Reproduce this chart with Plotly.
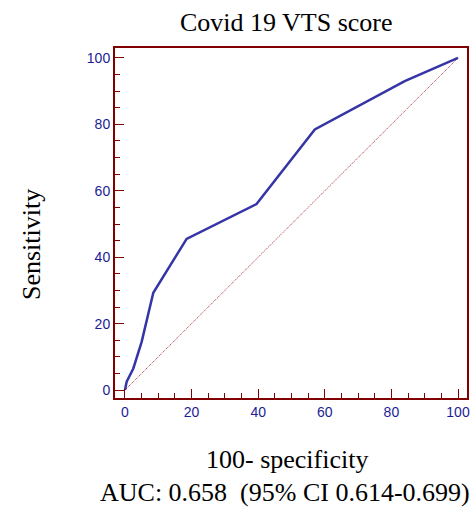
import plotly.graph_objects as go

# ROC curve points (100-specificity, sensitivity)
fpr = [0, 0.5, 2.5, 5, 8.5, 18.5, 39.5, 57, 84, 100]
tpr = [0, 2.5, 6.5, 14.5, 29.3, 45.5, 56, 78.5, 93, 100]
diag_x = [0, 100]
diag_y = [0, 100]
tick_vals = [0, 20, 40, 60, 80, 100]

title_text = "Covid 19 VTS score"
x_title = "100- specificity"
y_title = "Sensitivity"
auc_text = "AUC: 0.658  (95% CI 0.614-0.699)"

frame_color = "#800000"
tick_color = "#1c1c96"
serif = "Liberation Serif, Times New Roman, serif"
sans = "Liberation Sans, Arial, sans-serif"

fig = go.Figure()
fig.add_trace(go.Scatter(x=diag_x, y=diag_y, mode="lines",
                         line=dict(color="#a82828", width=1, dash="1px,1px"),
                         hoverinfo="skip", showlegend=False))
fig.add_trace(go.Scatter(x=fpr, y=tpr, mode="lines",
                         line=dict(color="#3535a5", width=2.5),
                         showlegend=False))

axis_common = dict(
    tickvals=tick_vals, ticks="inside", ticklen=9, tickwidth=1,
    tickcolor=frame_color, showline=True, linecolor=frame_color, linewidth=2,
    mirror=True, showgrid=False, zeroline=False, automargin=False,
    tickfont=dict(family=sans, size=14, color=tick_color),
    minor=dict(dtick=5, ticks="inside", ticklen=5, tickwidth=1, tickcolor=frame_color),
)

plot_left, plot_right, plot_top, plot_bot = 115, 467, 48, 398
W, H = 476, 509

fig.update_layout(
    width=W, height=H,
    margin=dict(l=plot_left, r=W - plot_right, t=plot_top, b=H - plot_bot),
    paper_bgcolor="white", plot_bgcolor="white",
    xaxis=dict(range=[-3, 102.7], **axis_common),
    yaxis=dict(range=[-2.4, 103], **axis_common),
)

ph = plot_bot - plot_top
pw = plot_right - plot_left
def py(pix):
    return (plot_bot - pix) / ph
def px(pix):
    return (pix - plot_left) / pw

font_big = dict(family=serif, size=26, color="black")
fig.add_annotation(text=title_text, x=px(286), xref="paper", y=py(22), yref="paper",
                   showarrow=False, yanchor="middle", font=font_big)
fig.add_annotation(text=x_title, x=px(287), xref="paper", y=py(460), yref="paper",
                   showarrow=False, yanchor="middle", font=font_big)
fig.add_annotation(text=auc_text, x=px(285), xref="paper", y=py(492), yref="paper",
                   showarrow=False, yanchor="middle", font=font_big)
fig.add_annotation(text=y_title, x=px(31), xref="paper", y=py(245), yref="paper",
                   showarrow=False, textangle=-90, xanchor="center", yanchor="middle",
                   font=font_big)

fig.write_html("out.html", config={"displayModeBar": False},
               post_script="document.body.style.margin='0';document.body.style.padding='0';")
